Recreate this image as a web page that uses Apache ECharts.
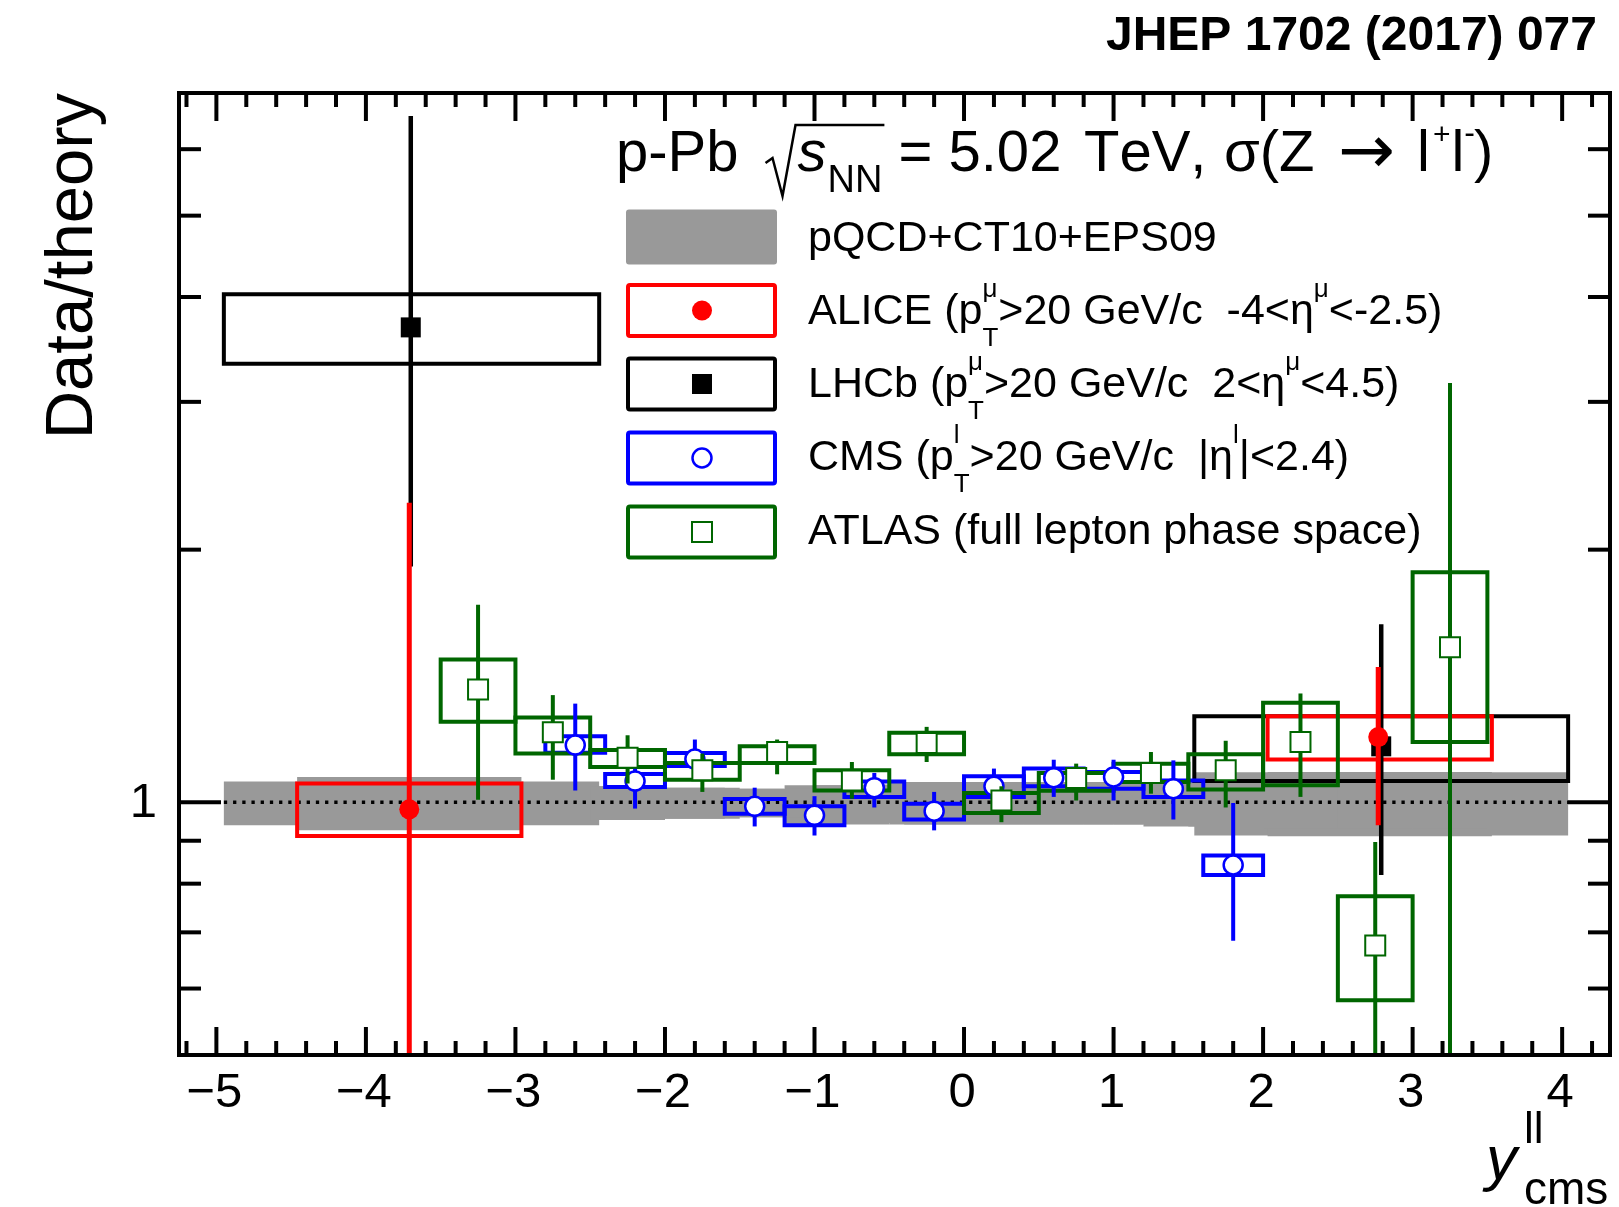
<!DOCTYPE html>
<html><head><meta charset="utf-8">
<script src="https://cdn.jsdelivr.net/npm/echarts@6/dist/echarts.min.js"></script>
<style>html,body{margin:0;padding:0;background:#fff}#c{width:1619px;height:1207px}</style>
</head><body><div id="c"></div>
<script>
// ---------------- data ----------------
// ATLAS (full lepton phase space)
const atlasEdges = [-3.5,-3.0,-2.5,-2.0,-1.5,-1.0,-0.5,0.0,0.5,1.0,1.5,2.0,2.5,3.0,3.5];
const atlasX     = [-3.25,-2.75,-2.25,-1.75,-1.25,-0.75,-0.25,0.25,0.75,1.25,1.75,2.25,2.75,3.25];
const atlasY     = [1.363,1.212,1.130,1.092,1.148,1.062,1.177,1.005,1.069,1.084,1.092,1.180,0.675,1.530];
const atlasSysLo = [1.247,1.143,1.102,1.064,1.114,1.033,1.141,0.971,1.032,1.057,1.036,1.048,0.581,1.180];
const atlasSysHi = [1.480,1.262,1.154,1.114,1.166,1.092,1.210,1.026,1.084,1.112,1.141,1.314,0.773,1.880];
const atlasErrLo = [1.007,1.064,1.053,1.029,1.080,1.010,1.117,0.947,1.005,1.024,0.986,1.015,0.45,0.45];
const atlasErrHi = [1.720,1.342,1.202,1.143,1.188,1.117,1.230,1.045,1.112,1.148,1.184,1.348,0.897,3.16];
const atlasThLo  = [0.950,0.950,0.953,0.956,0.960,0.941,0.941,0.941,0.941,0.941,0.936,0.930,0.930,0.930];
const atlasThHi  = [1.050,1.050,1.045,1.041,1.038,1.048,1.057,1.057,1.057,1.057,1.060,1.070,1.070,1.070];
// CMS
const cmsEdges = [-2.8,-2.4,-2.0,-1.6,-1.2,-0.8,-0.4,0.0,0.4,0.8,1.2,1.6,2.0];
const cmsX     = [-2.6,-2.2,-1.8,-1.4,-1.0,-0.6,-0.2,0.2,0.6,1.0,1.4,1.8];
const cmsY     = [1.170,1.060,1.126,0.989,0.965,1.041,0.976,1.045,1.070,1.072,1.038,0.842];
const cmsSysLo = [1.146,1.043,1.105,0.969,0.939,1.015,0.954,1.015,1.045,1.038,1.015,0.819];
const cmsSysHi = [1.199,1.081,1.145,1.009,0.989,1.059,0.996,1.074,1.097,1.087,1.062,0.864];
const cmsErrLo = [1.033,0.983,1.072,0.936,0.913,0.986,0.926,1.000,1.015,1.005,0.954,0.684];
const cmsErrHi = [1.311,1.138,1.188,1.041,1.017,1.084,1.029,1.097,1.124,1.124,1.122,0.998];
const cmsThLo  = [0.953,0.953,0.956,0.960,0.941,0.945,0.941,0.941,0.941,0.941,0.936,0.935];
const cmsThHi  = [1.045,1.045,1.041,1.038,1.048,1.050,1.057,1.057,1.055,1.055,1.055,1.060];
// LHCb
const lhcbXLo  = [-4.95, 1.54];
const lhcbXHi  = [-2.44, 4.04];
const lhcbX    = [-3.70, 2.79];
const lhcbY    = [3.68, 1.166];
const lhcbSysLo = [3.33, 1.060];
const lhcbSysHi = [4.03, 1.266];
const lhcbErrLo = [1.91, 0.819];
const lhcbErrHi = [6.57, 1.630];
const lhcbThLo  = [0.939, 0.913];
const lhcbThHi  = [1.059, 1.086];
// ALICE
const aliceXLo  = [-4.46, 2.03];
const aliceXHi  = [-2.96, 3.53];
const aliceX    = [-3.71, 2.77];
const aliceY    = [0.981, 1.196];
const aliceSysLo = [0.912, 1.125];
const aliceSysHi = [1.053, 1.266];
const aliceErrLo = [0.45, 0.939];
const aliceErrHi = [2.274, 1.450];
const aliceThLo  = [0.926, 0.911];
const aliceThHi  = [1.072, 1.087];
// reference line
const unityLine = [[-4.95, 4.04, 1]];
// axes
const X_MIN = -5.25, X_MAX = 4.32, Y_MIN = 0.5, Y_MAX = 7;
const xMajorTicks = [-5,-4,-3,-2,-1,0,1,2,3,4];
const xTickLabels = ['\u22125','\u22124','\u22123','\u22122','\u22121','0','1','2','3','4'];
const xMinorTicks = [-5.2,-4.8,-4.6,-4.4,-4.2,-3.8,-3.6,-3.4,-3.2,-2.8,-2.6,-2.4,-2.2,-1.8,-1.6,-1.4,-1.2,
  -0.8,-0.6,-0.4,-0.2,0.2,0.4,0.6,0.8,1.2,1.4,1.6,1.8,2.2,2.4,2.6,2.8,3.2,3.4,3.6,3.8,4.2];
const yMajorTicks = [1];
const yTickLabels = ['1'];
const yMinorTicks = [0.6,0.7,0.8,0.9,2,3,4,5,6];

// ---------------- helpers ----------------
const FAM = '"Liberation Sans", Arial, sans-serif';
const GREEN = '#006600', BLUE = '#0000ff', RED = '#ff0000', GREY = '#999999';
const mctx = document.createElement('canvas').getContext('2d');
function fontOf(p, fs){ return (p.italic?'italic ':'') + (p.bold?'bold ':'') + fs + 'px ' + (p.fam || FAM); }
function layout(x0, base, pieces, defFs, color){
  let x = x0, lastStart = x0; const els = [];
  for (const p of pieces){
    const fs = p.fs || defFs; const font = fontOf(p, fs);
    if (p.at !== undefined) x = p.at;
    if (p.gap) x += p.gap;
    const start = p.stack ? lastStart : x;
    mctx.font = font; const w = mctx.measureText(p.t).width;
    els.push({type:'text', x:start, y:base + (p.dy||0) - 0.347*fs, silent:true, z:100,
      style:{text:p.t, font:font, fill:color||'#000', align:'left', verticalAlign:'middle', textAlign:'left', textVerticalAlign:'middle'}});
    if (p.stack) x = Math.max(x, start + w); else { lastStart = start; x = start + w; }
  }
  return {els:els, end:x};
}
// split a string into single-glyph pieces (no kerning, like ROOT)
function chars(s, extra){ return s.split('').map((c,i)=> i===0 && extra ? Object.assign({t:c}, extra) : {t:c}); }
function rows4(xl, xh, lo, hi){ return xl.map((v,i)=>[v, xh[i], lo[i], hi[i]]); }
function rowsPts(x, y, lo, hi){ return x.map((v,i)=>[v, y[i], lo[i], hi[i]]); }

const theoryRows = [].concat(
  rows4(lhcbXLo, lhcbXHi, lhcbThLo, lhcbThHi),
  rows4(aliceXLo, aliceXHi, aliceThLo, aliceThHi),
  rows4(cmsEdges.slice(0,-1), cmsEdges.slice(1), cmsThLo, cmsThHi),
  rows4(atlasEdges.slice(0,-1), atlasEdges.slice(1), atlasThLo, atlasThHi));

function rectSeries(rows, style, clip){
  return {type:'custom', coordinateSystem:'cartesian2d', data:rows, encode:{x:[0,1], y:[2,3]},
    clip: clip !== false, silent:true, animation:false,
    renderItem:(params, api)=>{
      const a = api.coord([api.value(0), api.value(3)]);
      const b = api.coord([api.value(1), api.value(2)]);
      return {type:'rect', shape:{x:a[0], y:a[1], width:b[0]-a[0], height:b[1]-a[1]}, style:Object.assign({}, style)};
    }};
}
function pointSeries(rows, color, barW, marker){
  return {type:'custom', coordinateSystem:'cartesian2d', data:rows, encode:{x:0, y:[1,2,3]},
    clip:true, silent:true, animation:false,
    renderItem:(params, api)=>{
      const x = api.value(0);
      const lo = api.coord([x, api.value(2)]), hi = api.coord([x, api.value(3)]), c = api.coord([x, api.value(1)]);
      return {type:'group', children:[
        {type:'line', shape:{x1:lo[0], y1:lo[1], x2:hi[0], y2:hi[1]}, style:{stroke:color, lineWidth:barW}},
        marker(c)]};
    }};
}
const mkAlice = c => ({type:'circle', shape:{cx:c[0], cy:c[1], r:10}, style:{fill:RED}});
const mkLhcb  = c => ({type:'rect', shape:{x:c[0]-10, y:c[1]-10, width:20, height:20}, style:{fill:'#000'}});
const mkCms   = c => ({type:'circle', shape:{cx:c[0], cy:c[1], r:9.5}, style:{fill:'#fff', stroke:BLUE, lineWidth:2.5}});
const mkAtlas = c => ({type:'rect', shape:{x:c[0]-10, y:c[1]-10, width:20, height:20}, style:{fill:'#fff', stroke:GREEN, lineWidth:2}});

function xTickSeries(vals, len){
  return {type:'custom', data:vals.map(v=>[v, Y_MIN]), encode:{x:0, y:1}, clip:false, silent:true, animation:false, z:20,
    renderItem:(params, api)=>{
      const cs = params.coordSys; const p = api.coord([api.value(0), Y_MIN]);
      const yb = cs.y + cs.height, yt = cs.y;
      return {type:'group', children:[
        {type:'line', shape:{x1:p[0], y1:yb, x2:p[0], y2:yb-len}, style:{stroke:'#000', lineWidth:4}},
        {type:'line', shape:{x1:p[0], y1:yt, x2:p[0], y2:yt+len}, style:{stroke:'#000', lineWidth:4}}]};
    }};
}
function yTickSeries(vals, len){
  return {type:'custom', data:vals.map(v=>[X_MIN, v]), encode:{x:0, y:1}, clip:false, silent:true, animation:false, z:20,
    renderItem:(params, api)=>{
      const cs = params.coordSys; const p = api.coord([X_MIN, api.value(1)]);
      const xl = cs.x, xr = cs.x + cs.width;
      return {type:'group', children:[
        {type:'line', shape:{x1:xl, y1:p[1], x2:xl+len, y2:p[1]}, style:{stroke:'#000', lineWidth:4}},
        {type:'line', shape:{x1:xr, y1:p[1], x2:xr-len, y2:p[1]}, style:{stroke:'#000', lineWidth:4}}]};
    }};
}
const LABEL_FS = 49;
const xLabelSeries = {type:'custom', data:xMajorTicks.map(v=>[v, Y_MIN]), encode:{x:0, y:1}, clip:false, silent:true, animation:false, z:20,
  renderItem:(params, api)=>{
    const cs = params.coordSys; const p = api.coord([api.value(0), Y_MIN]);
    return {type:'text', x:p[0] - 2, y:cs.y + cs.height + 55 - 0.347*LABEL_FS,
      style:{text:xTickLabels[params.dataIndex], font:LABEL_FS+'px '+FAM, fill:'#000', align:'center', verticalAlign:'middle', textAlign:'center', textVerticalAlign:'middle'}};
  }};
const yLabelSeries = {type:'custom', data:yMajorTicks.map(v=>[X_MIN, v]), encode:{x:0, y:1}, clip:false, silent:true, animation:false, z:20,
  renderItem:(params, api)=>{
    const cs = params.coordSys; const p = api.coord([X_MIN, api.value(1)]);
    return {type:'text', x:cs.x - 22, y:p[1] + 18 - 0.347*LABEL_FS,
      style:{text:yTickLabels[params.dataIndex], font:LABEL_FS+'px '+FAM, fill:'#000', align:'right', verticalAlign:'middle', textAlign:'right', textVerticalAlign:'middle'}};
  }};
const unitySeries = {type:'custom', data:unityLine, encode:{x:[0,1], y:2}, clip:true, silent:true, animation:false,
  renderItem:(params, api)=>{
    const a = api.coord([api.value(0), api.value(2)]), b = api.coord([api.value(1), api.value(2)]);
    return {type:'line', shape:{x1:a[0], y1:a[1], x2:b[0], y2:b[1]}, style:{stroke:'#000', lineWidth:3.5, lineDash:[3.3,5.9]}};
  }};
const frameSeries = rectSeries([[X_MIN, X_MAX, Y_MIN, Y_MAX]], {fill:'none', stroke:'#000', lineWidth:4}, false);
frameSeries.z = 30;

// ---------------- graphic (titles, legend) ----------------
const G = [];
// journal tag
G.push({type:'text', x:1597, y:53 - 0.347*48, silent:true, style:{text:'JHEP 1702 (2017) 077', font:'bold 48px '+FAM, fill:'#000', align:'right', verticalAlign:'middle', textAlign:'right', textVerticalAlign:'middle'}});
// plot title
const TF = 58, TB = 175;
const t1 = layout(616, TB, chars('p-Pb'), TF);
const radX = t1.end + 27;
const t2 = layout(radX + 32, TB, [{t:'s', italic:true}, {t:'NN', fs:38, dy:20, gap:1}], TF);
G.push(...t1.els, ...t2.els);
G.push({type:'polyline', silent:true, shape:{points:[[radX, 163],[radX+7, 158],[radX+17, 196],[radX+30, 125],[t2.end+2, 125]]}, style:{stroke:'#000', lineWidth:2.5, fill:null}});
const t3 = layout(t2.end, TB, [].concat(
  chars(' = 5.02'),
  chars('TeV,', {at:1084}),
  chars('\u03c3(Z', {at:1224}),
  [{t:'\u2192', at:1338, fs:68, fam:'"DejaVu Sans", sans-serif', dy:4},
   {t:'l', at:1417},
   {t:'+', fs:30, dy:-29, gap:3},
   {t:'l', gap:1},
   {t:'-', fs:32, dy:-30},
   {t:')', at:1474}]), TF);
G.push(...t3.els);
// y axis title
G.push({type:'text', x:74, y:93, rotation:Math.PI/2, silent:true, style:{text:'Data/theory', font:'67px '+FAM, fill:'#000', align:'right', verticalAlign:'middle', textAlign:'right', textVerticalAlign:'middle'}});
// x axis title
const xt = layout(1486, 1183, [{t:'y', italic:true}, {t:'ll', fs:44, dy:-37, gap:7}, {t:'cms', fs:46, dy:24, stack:true}], 62);
G.push(...xt.els);
// legend
const LX = 628, LW = 147, LH = 51;
const legY = [237, 310.5, 384, 458, 532];
G.push({type:'rect', silent:true, shape:{x:LX-2, y:legY[0]-27.5, width:LW+4, height:55, r:3}, style:{fill:GREY}});
[[RED,1],[ '#000',2],[BLUE,3],[GREEN,4]].forEach(([col,i])=>{
  G.push({type:'rect', silent:true, shape:{x:LX, y:legY[i]-LH/2, width:LW, height:LH, r:2}, style:{fill:null, stroke:col, lineWidth:4}});
});
const MX = 702;
G.push({type:'circle', silent:true, shape:{cx:MX, cy:legY[1], r:10}, style:{fill:RED}});
G.push({type:'rect', silent:true, shape:{x:MX-10, y:legY[2]-10, width:20, height:20}, style:{fill:'#000'}});
G.push({type:'circle', silent:true, shape:{cx:MX, cy:legY[3], r:9.5}, style:{fill:'#fff', stroke:BLUE, lineWidth:2.5}});
G.push({type:'rect', silent:true, shape:{x:MX-10, y:legY[4]-10, width:20, height:20}, style:{fill:'#fff', stroke:GREEN, lineWidth:2}});
const LF = 43, TX = 808, SUP = {fs:26, dy:-28}, SUB = {fs:26, dy:21, stack:true};
const legBase = [254, 327, 400, 473, 547];
const legendTexts = [
  [{t:'pQCD+CT10+EPS09'}],
  [{t:'ALICE (p'}, Object.assign({t:'\u03bc'}, SUP), Object.assign({t:'T'}, SUB), {t:'>20 GeV/c  -4<\u03b7'}, Object.assign({t:'\u03bc'}, SUP), {t:'<-2.5)'}],
  [{t:'LHCb (p'}, Object.assign({t:'\u03bc'}, SUP), Object.assign({t:'T'}, SUB), {t:'>20 GeV/c  2<\u03b7'}, Object.assign({t:'\u03bc'}, SUP), {t:'<4.5)'}],
  [{t:'CMS (p'}, Object.assign({t:'l'}, SUP), Object.assign({t:'T'}, SUB), {t:'>20 GeV/c  |\u03b7'}, Object.assign({t:'l'}, SUP), {t:'|<2.4)'}],
  [{t:'ATLAS (full lepton phase space)'}]
];
legendTexts.forEach((pc,i)=>{ G.push(...layout(TX, legBase[i], pc, LF).els); });

// ---------------- chart ----------------
const chart = echarts.init(document.getElementById('c'), null, {renderer:'canvas'});
chart.setOption({
  animation:false,
  backgroundColor:'#fff',
  grid:{left:179, right:9, top:93, bottom:152, show:false},
  xAxis:{type:'value', min:X_MIN, max:X_MAX, show:false, splitLine:{show:false}},
  yAxis:{type:'log', logBase:10, min:Y_MIN, max:Y_MAX, show:false, splitLine:{show:false}},
  graphic:G,
  series:[
    rectSeries(theoryRows, {fill:GREY, stroke:null}),
    unitySeries,
    rectSeries(rows4(lhcbXLo, lhcbXHi, lhcbSysLo, lhcbSysHi), {fill:'none', stroke:'#000', lineWidth:4}),
    rectSeries(rows4(aliceXLo, aliceXHi, aliceSysLo, aliceSysHi), {fill:'none', stroke:RED, lineWidth:4}),
    rectSeries(rows4(cmsEdges.slice(0,-1), cmsEdges.slice(1), cmsSysLo, cmsSysHi), {fill:'none', stroke:BLUE, lineWidth:4}),
    rectSeries(rows4(atlasEdges.slice(0,-1), atlasEdges.slice(1), atlasSysLo, atlasSysHi), {fill:'none', stroke:GREEN, lineWidth:4}),
    pointSeries(rowsPts(lhcbX, lhcbY, lhcbErrLo, lhcbErrHi), '#000', 4.5, mkLhcb),
    pointSeries(rowsPts(aliceX, aliceY, aliceErrLo, aliceErrHi), RED, 5, mkAlice),
    pointSeries(rowsPts(cmsX, cmsY, cmsErrLo, cmsErrHi), BLUE, 4, mkCms),
    pointSeries(rowsPts(atlasX, atlasY, atlasErrLo, atlasErrHi), GREEN, 4, mkAtlas),
    xTickSeries(xMajorTicks, 28),
    xTickSeries(xMinorTicks, 14),
    yTickSeries(yMajorTicks, 42),
    yTickSeries(yMinorTicks, 22),
    xLabelSeries,
    yLabelSeries,
    frameSeries
  ]
});
</script></body></html>
